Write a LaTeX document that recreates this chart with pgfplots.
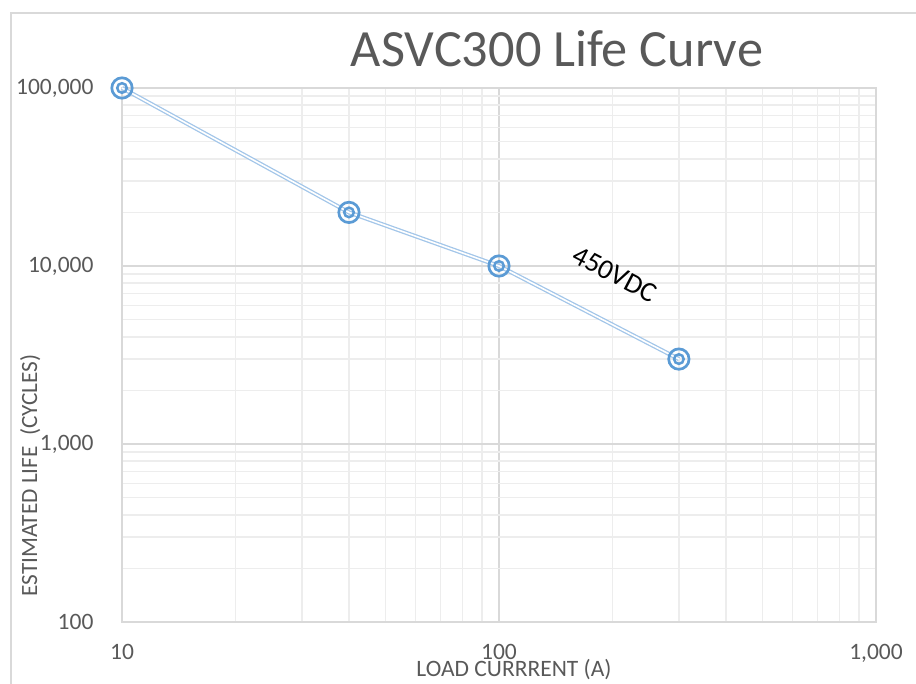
\documentclass[border=0pt]{standalone}
\usepackage{pgfplots}
\pgfplotsset{compat=1.18}
\usepackage{fontspec}
\setmainfont{Carlito}
\definecolor{txt}{HTML}{595959}
\definecolor{majgrid}{HTML}{D9D9D9}
\definecolor{mingrid}{HTML}{EDEDED}
\definecolor{mk}{HTML}{5B9BD5}
\definecolor{ln}{HTML}{A3C6E9}
\begin{document}
\begin{tikzpicture}[x=1pt,y=1pt]
\path[use as bounding box] (0,0) rectangle (916,684);
\draw[majgrid, line width=1.5pt] (11,-5) -- (11,671) -- (925,671);
\begin{axis}[
  at={(122pt,62pt)}, anchor=south west, scale only axis,
  width=754pt, height=534pt,
  xmode=log, ymode=log,
  xmin=10, xmax=1000, ymin=100, ymax=100000,
  /pgf/number format/assume math mode=true,
  xtick={10,100,1000}, xticklabels={10,100,{1,000}},
  ytick={100,1000,10000,100000}, yticklabels={100,{1,000},{10,000},{100,000}},
  minor xtick={20,30,40,50,60,70,80,90,200,300,400,500,600,700,800,900},
  minor ytick={200,300,400,500,600,700,800,900,2000,3000,4000,5000,6000,7000,8000,9000,20000,30000,40000,50000,60000,70000,80000,90000},
  grid=both,
  major grid style={draw=majgrid, line width=1.5pt},
  minor grid style={draw=mingrid, line width=1.5pt},
  axis line style={draw=majgrid, line width=1.5pt},
  major tick length=0pt, minor tick length=0pt,
  ticklabel style={font=\fontsize{23.5}{28}\selectfont, text=txt},
  xticklabel style={yshift=-19pt},
  yticklabel style={xshift=-25pt},
  clip=false,
]
\addplot[draw=ln, line width=1.3pt, double=white, double distance=1.6pt, mark=none]
  coordinates {(10,100000) (40,20000) (100,10000) (300,3000)};
\addplot[only marks, mark=o, mark size=10.2pt, mark options={draw=mk, line width=2.7pt}]
  coordinates {(10,100000) (40,20000) (100,10000) (300,3000)};
\addplot[only marks, mark=o, mark size=4.8pt, mark options={draw=mk, line width=2.5pt}]
  coordinates {(10,100000) (40,20000) (100,10000) (300,3000)};
\node[rotate=-27.5, font=\fontsize{28}{32}\selectfont, text=black] at (axis cs:203,9000) {450VDC};
\end{axis}
\node[anchor=base, text=txt, font=\fontsize{52.3}{60}\selectfont] at (557,617) {ASVC300 Life Curve};
\node[anchor=base, text=txt, font=\fontsize{23.5}{28}\selectfont] at (514,7) {LOAD CURRRENT (A)};
\node[anchor=base, rotate=90, text=txt, font=\fontsize{23.3}{28}\selectfont] at (37,208.5) {ESTIMATED LIFE~~(CYCLES)};
\end{tikzpicture}
\end{document}
